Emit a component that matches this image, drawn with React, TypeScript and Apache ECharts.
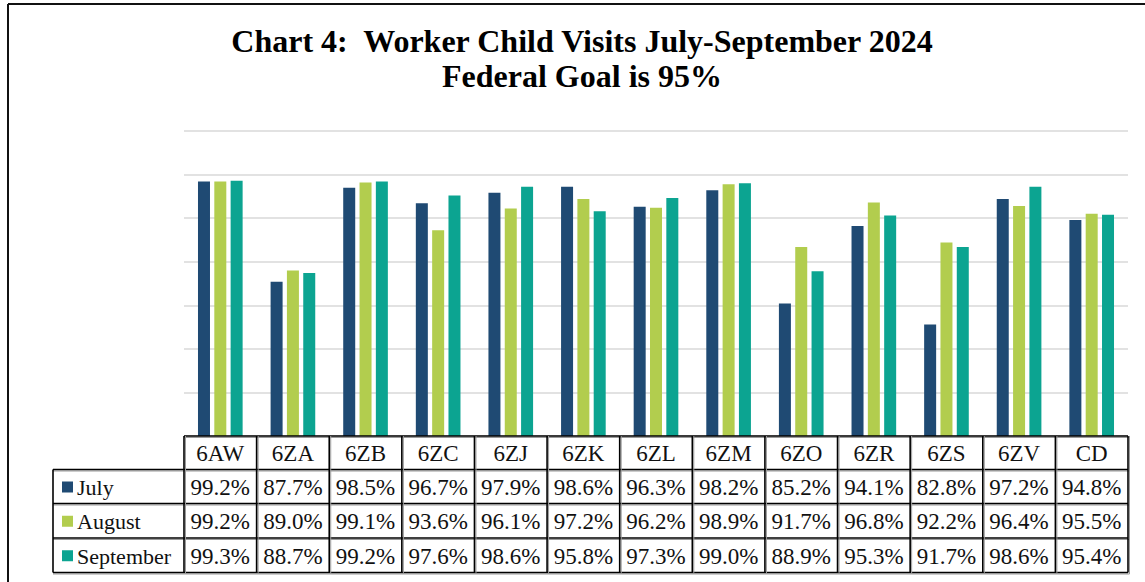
import React, { useEffect, useRef } from "react";
import * as echarts from "echarts";

const categories = ["6AW", "6ZA", "6ZB", "6ZC", "6ZJ", "6ZK", "6ZL", "6ZM", "6ZO", "6ZR", "6ZS", "6ZV", "CD"];
const julyValues = [99.2, 87.7, 98.5, 96.7, 97.9, 98.6, 96.3, 98.2, 85.2, 94.1, 82.8, 97.2, 94.8];
const augustValues = [99.2, 89.0, 99.1, 93.6, 96.1, 97.2, 96.2, 98.9, 91.7, 96.8, 92.2, 96.4, 95.5];
const septemberValues = [99.3, 88.7, 99.2, 97.6, 98.6, 95.8, 97.3, 99.0, 88.9, 95.3, 91.7, 98.6, 95.4];
const seriesNames = ["July", "August", "September"];
const seriesColors = ["#1F4A73", "#B2CD4E", "#0CA491"];
const titleLines = ["Chart 4:  Worker Child Visits July-September 2024", "Federal Goal is 95%"];

const W = 1145;
const H = 582;
const gridLeft = 184;
const gridRight = 1128;
const gridTop = 131;
const gridBottom = 436;
const tableLeft = 53;
const rowYs = [436, 469.5, 503.5, 538, 572.5];
const serif = "Liberation Serif";

export default function App() {
  const ref = useRef<HTMLDivElement>(null);
  useEffect(() => {
    if (!ref.current) return;
    const chart = echarts.init(ref.current, null, { renderer: "svg", width: W, height: H });
    const allValues = [julyValues, augustValues, septemberValues];
    const colW = (gridRight - gridLeft) / categories.length;
    const g: any[] = [];
    const line = (x1: number, y1: number, x2: number, y2: number, color = "#000", w = 1.6) =>
      g.push({ type: "line", shape: { x1, y1, x2, y2 }, style: { stroke: color, lineWidth: w }, z: 10 });
    const txt = (x: number, y: number, text: string, size: number, align: string, bold = false) =>
      g.push({
        type: "text",
        x,
        y,
        style: { text, fontFamily: serif, fontSize: size, fontWeight: bold ? "bold" : "normal", fill: bold ? "#000" : "#111", align, verticalAlign: "middle" },
        z: 11,
      });

    // outer frame
    line(8, 4, W, 4, "#111", 2);
    line(8, 4, 8, H, "#111", 2);

    // titles
    txt(582, 41, titleLines[0], 32, "center", true);
    txt(582, 76, titleLines[1], 32, "center", true);

    // table lines (shadow first)
    const shadow = "#9a9a9a";
    line(gridLeft, rowYs[0] + 1.5, gridRight + 1.5, rowYs[0] + 1.5, shadow, 1);
    for (let r = 1; r < rowYs.length; r++) line(tableLeft, rowYs[r] + 1.5, gridRight + 1.5, rowYs[r] + 1.5, shadow, 1);
    line(gridLeft, rowYs[0], gridRight, rowYs[0]);
    for (let r = 1; r < rowYs.length; r++) line(tableLeft, rowYs[r], gridRight, rowYs[r]);
    line(tableLeft, rowYs[1], tableLeft, rowYs[4]);
    for (let c = 0; c <= categories.length; c++) {
      const x = gridLeft + c * colW;
      line(x + 1.5, rowYs[0], x + 1.5, rowYs[4] + 1.5, shadow, 1);
      line(x, rowYs[0], x, rowYs[4]);
    }

    // header
    categories.forEach((cat, c) => {
      txt(gridLeft + (c + 0.5) * colW, (rowYs[0] + rowYs[1]) / 2 + 1, cat, 23, "center");
    });
    // rows
    seriesNames.forEach((name, r) => {
      const cy = (rowYs[r + 1] + rowYs[r + 2]) / 2 + 1;
      g.push({ type: "rect", shape: { x: 62, y: cy - 6, width: 11, height: 11 }, style: { fill: seriesColors[r] }, z: 11 });
      txt(77, cy, name, 22, "left");
      allValues[r].forEach((v, c) => {
        txt(gridLeft + (c + 0.5) * colW, cy, v.toFixed(1) + "%", 23, "center");
      });
    });

    chart.setOption({
      animation: false,
      backgroundColor: "#fff",
      grid: { left: gridLeft, right: W - gridRight, top: gridTop, bottom: H - gridBottom, containLabel: false },
      xAxis: {
        type: "category",
        data: categories,
        axisLabel: { show: false },
        axisTick: { show: false },
        axisLine: { show: false },
      },
      yAxis: {
        type: "value",
        min: 70,
        max: 105,
        interval: 5,
        axisLabel: { show: false },
        axisLine: { show: false },
        axisTick: { show: false },
        splitLine: { lineStyle: { color: "#d9d9d9", width: 1.5 } },
      },
      series: allValues.map((vals, i) => ({
        name: seriesNames[i],
        type: "bar",
        data: vals,
        barWidth: 12,
        barGap: "36%",
        itemStyle: { color: seriesColors[i] },
      })),
      graphic: g,
    });
    return () => chart.dispose();
  }, []);
  return <div ref={ref} style={{ width: W, height: H, position: "absolute", left: 0, top: 0 }} />;
}
